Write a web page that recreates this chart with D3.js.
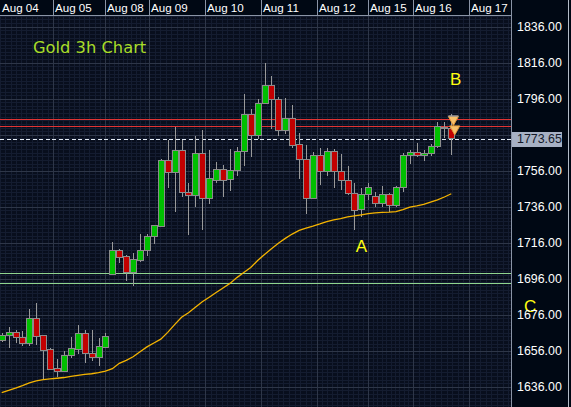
<!DOCTYPE html>
<html><head><meta charset="utf-8">
<script src="https://cdn.jsdelivr.net/npm/d3@7"></script>
<style>html,body{margin:0;padding:0;background:#000814;overflow:hidden}svg{display:block}</style>
</head><body><svg id="c" width="571" height="407"></svg>
<script>
// ---------- data ----------
const dayLabels = ["Aug 04","Aug 05","Aug 08","Aug 09","Aug 10","Aug 11","Aug 12","Aug 15","Aug 16","Aug 17"];
const dayStarts = [-0.25, 7.42, 14.93, 21.30, 29.39, 37.49, 45.58, 52.96, 59.46, 67.56]; // in candle-index units

const openP = [1661.6,1664.3,1666.2,1663.4,1660.1,1674.0,1664.2,1656.4,1646.2,1644.3,1653.2,1656.9,1665.3,1654.6,1652.1,1657.7,
 1698.6,1711.9,1708.2,1699.6,1706.0,1711.6,1719.3,1724.9,1761.9,1754.9,1767.5,1744.0,1742.1,1765.3,1740.3,1750.8,1756.8,1751.2,1756.0,1766.6,1787.3,1775.4,1793.4,1803.6,1795.7,1778.2,1785.1,1770.3,1762.5,1740.7,1764.6,1755.4,1766.9,1755.8,1750.8,1743.4,1734.2,1742.9,1741.6,1737.9,1742.9,1736.4,1746.8,1764.2,1766.2,1764.3,1765.3,1769.3,1779.6,1779.6];
const highP = [1665.8,1669.3,1667.5,1666.9,1679.2,1682.7,1664.2,1657.3,1651.4,1655.8,1663.4,1670.3,1667.5,1667.5,1662.9,1666.0,
 1716.6,1712.5,1709.2,1710.1,1720.8,1720.8,1725.8,1762.5,1773.1,1780.4,1773.1,1749.3,1775.3,1778.6,1767.5,1761.0,1759.2,1767.9,1769.3,1798.6,1790.1,1795.8,1816.0,1808.6,1797.1,1796.2,1792.5,1776.8,1770.3,1766.6,1768.4,1768.4,1768.1,1765.3,1758.6,1749.3,1746.2,1749.0,1744.3,1747.5,1743.4,1747.5,1766.0,1767.5,1771.2,1767.5,1770.7,1783.2,1783.2,1787.5];
const lowP = [1660.8,1657.3,1660.1,1658.8,1658.8,1659.2,1640.3,1645.3,1641.5,1644.3,1651.8,1654.2,1649.0,1650.3,1647.5,1657.7,
 1698.1,1704.9,1694.9,1692.1,1705.4,1708.8,1715.3,1724.9,1746.6,1733.2,1741.6,1720.3,1736.0,1723.1,1737.5,1749.3,1741.6,1744.9,1753.1,1758.6,1763.8,1773.4,1793.4,1779.2,1775.3,1776.4,1768.8,1751.4,1731.9,1740.7,1748.1,1753.1,1746.6,1745.3,1742.5,1723.1,1730.4,1739.7,1735.7,1735.7,1733.2,1736.0,1744.3,1759.6,1763.4,1761.6,1764.3,1768.4,1774.0,1764.7];
const closeP = [1664.7,1666.2,1663.2,1660.1,1674.0,1663.7,1656.0,1645.7,1644.3,1653.6,1657.3,1665.3,1654.6,1652.3,1658.6,1663.7,
 1711.9,1707.9,1699.6,1706.4,1711.9,1719.7,1725.3,1761.9,1754.9,1767.5,1744.0,1742.1,1765.3,1740.7,1751.4,1756.8,1750.8,1756.0,1766.9,1787.3,1775.4,1793.4,1803.6,1795.7,1778.2,1785.1,1769.9,1762.3,1740.7,1764.6,1755.4,1766.9,1755.4,1750.4,1743.4,1733.8,1742.9,1746.8,1737.9,1742.9,1736.4,1746.8,1764.2,1766.2,1764.7,1765.7,1769.7,1780.4,1780.2,1773.65];
const maP = [1632.7,1633.9,1635.2,1636.6,1638.1,1639.2,1639.9,1640.3,1640.7,1641.1,1641.7,1642.3,1642.8,1643.2,1643.8,1644.7,
 1646.0,1649.0,1650.6,1652.6,1655.4,1658.1,1660.3,1662.4,1666.2,1670.5,1674.6,1677.1,1680.2,1683.2,1685.7,1688.3,1690.8,1693.4,1696.6,1699.4,1702.2,1706.1,1709.5,1712.6,1715.7,1718.4,1720.8,1722.8,1724.1,1725.2,1726.4,1727.7,1728.7,1729.4,1730.3,1730.9,1731.5,1732.1,1732.6,1732.8,1733.0,1733.3,1734.4,1735.8,1736.5,1737.3,1738.6,1739.8,1741.4,1743.2];
const priceTicks = [1636,1656,1676,1696,1716,1736,1756,1776,1796,1816,1836];
const redLevels = [1784.7, 1780.8];
const greenLevels = [1699.0, 1693.4];
const lastPrice = 1773.65;
const annLabels = ["A","B","C"];
const annIndex = [51.2, 64.8, 75.5];
const annPrice = [1711.0, 1803.6, 1677.7];
const signalIndex = [65.3, 65.5];
const signalPrice = [1786.1, 1780.9];
const title = "Gold 3h Chart";

// ---------- layout ----------
const W = 571, H = 407, plotR = 511, plotT = 16;
const svg = d3.select("#c");
const y = d3.scaleLinear().domain([1636, 1836]).range([386.7, 26.7]);
const x = d3.scaleLinear().domain([0, 65]).range([1.7, 451.3]);

svg.append("rect").attr("width", W).attr("height", H).attr("fill", "#000814");
const plot = svg.append("g");
plot.append("rect").attr("x", 0).attr("y", plotT).attr("width", plotR).attr("height", H - plotT).attr("fill", "#080e1d");

const clip = svg.append("defs").append("clipPath").attr("id", "pc");
clip.append("rect").attr("x", 0).attr("y", plotT).attr("width", plotR).attr("height", H - plotT);
const g = plot.append("g").attr("clip-path", "url(#pc)").attr("shape-rendering", "crispEdges");

// minor grid
const minorX = [];
for (let k = 0; k < dayStarts.length - 1; k++) {
  const a = dayStarts[k], b = dayStarts[k + 1];
  for (let j = 0; j < 10; j++) minorX.push(a + (b - a) * j / 10);
}
{
  const a = dayStarts[dayStarts.length - 2], b = dayStarts[dayStarts.length - 1], st = (b - a) / 10;
  for (let v = b; x(v) < plotR; v += st) minorX.push(v);
  const st0 = (dayStarts[1] - dayStarts[0]) / 10;
  for (let v = dayStarts[0] - st0; x(v) > -10; v -= st0) minorX.push(v);
}
g.selectAll(".mvx").data(minorX).join("line")
  .attr("x1", d => Math.round(x(d)) + 0.5).attr("x2", d => Math.round(x(d)) + 0.5)
  .attr("y1", plotT).attr("y2", H).attr("stroke", "#141c30").attr("stroke-width", 1);
const minorY = d3.range(1624, 1844, 2);
g.selectAll(".mhy").data(minorY).join("line")
  .attr("x1", 0).attr("x2", plotR)
  .attr("y1", d => Math.round(y(d)) + 0.5).attr("y2", d => Math.round(y(d)) + 0.5)
  .attr("stroke", "#141c30").attr("stroke-width", 1);

// major grid
g.selectAll(".gx").data(dayStarts.slice(1)).join("line")
  .attr("x1", d => Math.round(x(d)) + 0.5).attr("x2", d => Math.round(x(d)) + 0.5)
  .attr("y1", plotT).attr("y2", H).attr("stroke", "#2e3648");
g.selectAll(".gy").data(priceTicks).join("line")
  .attr("x1", 0).attr("x2", plotR)
  .attr("y1", d => Math.round(y(d)) + 0.5).attr("y2", d => Math.round(y(d)) + 0.5)
  .attr("stroke", "#2e3648");

// level lines
g.selectAll(".rl").data(redLevels).join("line")
  .attr("x1", 0).attr("x2", plotR)
  .attr("y1", d => Math.round(y(d)) + 0.5).attr("y2", d => Math.round(y(d)) + 0.5)
  .attr("stroke", "#e23434").attr("stroke-width", 1.2);
g.selectAll(".gl").data(greenLevels).join("line")
  .attr("x1", 0).attr("x2", plotR)
  .attr("y1", d => Math.round(y(d)) + 0.5).attr("y2", d => Math.round(y(d)) + 0.5)
  .attr("stroke", "#8fd48f").attr("stroke-width", 1.2);
g.append("line").attr("x1", 0).attr("x2", plotR)
  .attr("y1", Math.round(y(lastPrice)) + 0.5).attr("y2", Math.round(y(lastPrice)) + 0.5)
  .attr("stroke", "#e4ecf6").attr("stroke-width", 1.2).attr("stroke-dasharray", "4,2.5");

// moving average
const ma = plot.append("g").attr("clip-path", "url(#pc)");
ma.append("path").datum(maP)
  .attr("d", d3.line().x((d, i) => x(i)).y(d => y(d)))
  .attr("fill", "none").attr("stroke", "#f5b400").attr("stroke-width", 1.3);

// candles
const candles = d3.range(openP.length).map(i => ({i, o: openP[i], h: highP[i], l: lowP[i], c: closeP[i]}));
const cg = g.append("g");
cg.selectAll(".wk").data(candles).join("line")
  .attr("x1", d => Math.round(x(d.i)) + 0.5).attr("x2", d => Math.round(x(d.i)) + 0.5)
  .attr("y1", d => y(d.h)).attr("y2", d => y(d.l))
  .attr("stroke", "#9a9a9a").attr("stroke-width", 1);
cg.selectAll(".bd").data(candles).join("rect")
  .attr("x", d => Math.round(x(d.i)) - 2.5).attr("width", 6)
  .attr("y", d => y(Math.max(d.o, d.c)))
  .attr("height", d => Math.max(1.5, Math.abs(y(d.o) - y(d.c))))
  .attr("fill", d => d.c >= d.o ? "#00bf00" : "#c20000")
  .attr("stroke", "#8c8c8c").attr("stroke-width", 1);

// signal triangles
const sg = plot.append("g");
signalIndex.forEach((si, k) => {
  const cx = x(si), ty = y(signalPrice[k]);
  sg.append("path")
    .attr("d", `M${cx - 5},${ty} L${cx + 5},${ty} L${cx},${ty + 9} Z`)
    .attr("fill", "#f7c06a").attr("stroke", "#e39a3a").attr("stroke-width", 1);
  if (k === 0) sg.append("line").attr("x1", cx - 5).attr("x2", cx + 5).attr("y1", ty - 0.5).attr("y2", ty - 0.5)
    .attr("stroke", "#a0a0a0").attr("stroke-width", 1.5);
});

// title + annotations
svg.append("text").attr("x", 33).attr("y", 53).text(title)
  .attr("font-family", "DejaVu Sans, sans-serif").attr("font-size", 16.3).attr("fill", "#a8dc28");
svg.selectAll(".ann").data(annLabels).join("text")
  .attr("x", (d, k) => x(annIndex[k])).attr("y", (d, k) => y(annPrice[k]))
  .text(d => d)
  .attr("font-family", "Liberation Sans Narrow, Arial Narrow, Liberation Sans, sans-serif")
  .attr("font-size", 17).attr("fill", "#ffff10");

// top date strip
svg.append("rect").attr("x", 0).attr("y", 0).attr("width", plotR).attr("height", plotT).attr("fill", "#000814");
svg.selectAll(".sep").data(dayStarts.slice(1)).join("line")
  .attr("x1", d => Math.round(x(d)) + 0.5).attr("x2", d => Math.round(x(d)) + 0.5)
  .attr("y1", 0).attr("y2", plotT).attr("stroke", "#8a94a6");
svg.selectAll(".dl").data(dayLabels).join("text")
  .attr("x", (d, k) => Math.max(0, Math.round(x(dayStarts[k]))) + 2).attr("y", 12)
  .text(d => d).attr("font-family", "Liberation Sans, Arial, sans-serif").attr("font-size", 11.6).attr("fill", "#ffffff");
svg.append("line").attr("x1", 0).attr("x2", plotR).attr("y1", plotT - 0.5).attr("y2", plotT - 0.5).attr("stroke", "#8a94a6");

// right axis panel
svg.append("line").attr("x1", plotR + 0.5).attr("x2", plotR + 0.5).attr("y1", 0).attr("y2", H).attr("stroke", "#8a94a6");
svg.append("line").attr("x1", 568.5).attr("x2", 568.5).attr("y1", 0).attr("y2", H).attr("stroke", "#b4bcc8");
svg.selectAll(".pt").data(priceTicks.filter(p => p !== 1776)).join("text")
  .attr("x", 517).attr("y", d => y(d)).attr("dy", "0.36em")
  .text(d => d.toFixed(2)).attr("font-family", "Liberation Sans, Arial, sans-serif")
  .attr("font-size", 12.4).attr("fill", "#ffffff");
svg.append("rect").attr("x", 512).attr("y", Math.round(y(lastPrice)) - 7).attr("width", 50).attr("height", 15).attr("fill", "#a7b1c4");
svg.append("text").attr("x", 517).attr("y", y(lastPrice)).attr("dy", "0.36em").text(lastPrice.toFixed(2))
  .attr("font-family", "Liberation Sans, Arial, sans-serif").attr("font-size", 12.4).attr("fill", "#141a2a");
// C label is drawn over the axis panel
svg.selectAll(".ann").raise();
</script></body></html>
